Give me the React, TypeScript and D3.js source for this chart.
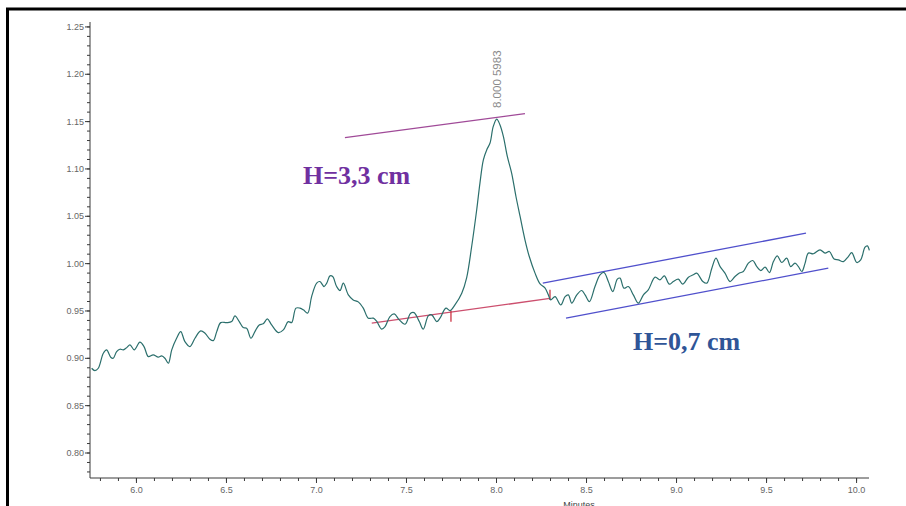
import React from "react";
import * as d3 from "d3";

// Chromatogram trace (minutes, signal)
const times: number[] = [
  5.751, 5.769, 5.788, 5.816, 5.834, 5.857, 5.871, 5.89, 5.908, 5.927, 5.946, 5.964, 5.988,
  6.019, 6.042, 6.066, 6.093, 6.121, 6.14, 6.158, 6.177, 6.196, 6.223, 6.246, 6.269, 6.297,
  6.325, 6.357, 6.381, 6.408, 6.427, 6.446, 6.468, 6.501, 6.529, 6.547, 6.571, 6.593, 6.612,
  6.636, 6.658, 6.682, 6.704, 6.727, 6.751, 6.788, 6.816, 6.843, 6.862, 6.886, 6.908, 6.927,
  6.951, 6.973, 7.001, 7.019, 7.042, 7.057, 7.075, 7.09, 7.112, 7.131, 7.149, 7.177, 7.204,
  7.232, 7.26, 7.288, 7.316, 7.333, 7.362, 7.381, 7.408, 7.432, 7.46, 7.492, 7.523, 7.542,
  7.571, 7.593, 7.621, 7.64, 7.668, 7.686, 7.719, 7.742, 7.769, 7.807, 7.834, 7.862, 7.89,
  7.908, 7.927, 7.946, 7.964, 7.982, 8.001, 8.019, 8.038, 8.06, 8.084, 8.108, 8.131, 8.158,
  8.182, 8.214, 8.242, 8.269, 8.288, 8.301, 8.325, 8.357, 8.381, 8.399, 8.418, 8.446, 8.473,
  8.492, 8.516, 8.547, 8.575, 8.597, 8.621, 8.646, 8.671, 8.686, 8.708, 8.732, 8.76, 8.788,
  8.816, 8.843, 8.881, 8.908, 8.932, 8.96, 8.982, 9.01, 9.034, 9.066, 9.093, 9.112, 9.146,
  9.168, 9.196, 9.219, 9.242, 9.269, 9.297, 9.325, 9.349, 9.371, 9.399, 9.423, 9.446, 9.468,
  9.492, 9.516, 9.538, 9.56, 9.584, 9.612, 9.634, 9.658, 9.677, 9.696, 9.714, 9.732, 9.76,
  9.797, 9.825, 9.849, 9.875, 9.899, 9.927, 9.954, 9.973, 10.001, 10.023, 10.047, 10.06, 10.071,
];
const signal: number[] = [
  0.8895, 0.887, 0.8895, 0.9054, 0.9089, 0.9012, 0.9001, 0.9071, 0.9096, 0.9089, 0.9113, 0.9142, 0.9089,
  0.917, 0.9124, 0.9018, 0.9036, 0.9012, 0.9025, 0.9001, 0.8948, 0.9089, 0.9212, 0.9282, 0.9177, 0.9124,
  0.9212, 0.929, 0.9265, 0.9202, 0.9187, 0.9282, 0.9377, 0.9377, 0.9388, 0.9448, 0.9388, 0.9325, 0.9318,
  0.9212, 0.9282, 0.9353, 0.9364, 0.9416, 0.9353, 0.9272, 0.93, 0.9388, 0.9377, 0.953, 0.953, 0.9512,
  0.9477, 0.9652, 0.9794, 0.9811, 0.9758, 0.9794, 0.9871, 0.9864, 0.9758, 0.9716, 0.9794, 0.967, 0.9617,
  0.9596, 0.953, 0.9424, 0.9424, 0.9395, 0.9308, 0.9335, 0.9441, 0.9469, 0.9406, 0.936, 0.9477, 0.9483,
  0.9388, 0.9308, 0.9448, 0.9459, 0.9388, 0.9424, 0.953, 0.9504, 0.9564, 0.9688, 0.985, 1.0181, 1.0569,
  1.0851, 1.1097, 1.1203, 1.1274, 1.1449, 1.1527, 1.1467, 1.1344, 1.1132, 1.0957, 1.0709, 1.0498, 1.0252,
  1.0075, 0.99, 0.9786, 0.9744, 0.967, 0.9617, 0.9652, 0.9564, 0.9652, 0.967, 0.9582, 0.967, 0.9716,
  0.967, 0.9599, 0.9758, 0.9882, 0.9906, 0.9811, 0.9705, 0.9836, 0.9847, 0.9741, 0.9758, 0.967, 0.9582,
  0.967, 0.9723, 0.9857, 0.9829, 0.9871, 0.9783, 0.9811, 0.9836, 0.9783, 0.9857, 0.9882, 0.99, 0.9811,
  0.9794, 0.9952, 1.0058, 0.9969, 0.99, 0.9811, 0.9864, 0.99, 0.9917, 1.0005, 1.0033, 0.9969, 0.9927,
  0.9963, 0.9906, 1.0022, 1.0082, 1.0012, 1.0058, 0.9969, 1.0005, 0.9969, 0.9917, 1.0005, 1.0111, 1.0104,
  1.0146, 1.0111, 1.0128, 1.0048, 1.004, 1.0022, 1.0075, 1.0117, 1.0012, 1.004, 1.0174, 1.0188, 1.0139,
];

const yMajorTicks: number[] = [0.8, 0.85, 0.9, 0.95, 1.0, 1.05, 1.1, 1.15, 1.2, 1.25];
const xMajorTicks: number[] = [6.0, 6.5, 7.0, 7.5, 8.0, 8.5, 9.0, 9.5, 10.0];
const xMinorTicks: number[] = d3.range(58, 101).map((d) => d / 10);
const yMinorTicks: number[] = d3.range(78, 126).map((d) => d / 100);

// Annotation segments [t1, v1, t2, v2]
const peakTopLine: number[] = [7.158, 1.133, 8.158, 1.1584];
const peakBaseLine: number[] = [7.307, 0.9371, 8.297, 0.9633];
const baseTickLeft: number[] = [7.747, 0.9504, 7.747, 0.9385];
const baseTickRight: number[] = [8.297, 0.9723, 8.297, 0.9617];
const noiseUpper: number[] = [8.257, 0.9794, 9.719, 1.0322];
const noiseLower: number[] = [8.386, 0.9424, 9.843, 0.9952];

const peakLabel = "8.000 5983";
const heightLabel1 = "H=3,3 cm";
const heightLabel2 = "H=0,7 cm";
const xTitle = "Minutes";

export default function App() {
  const W = 906;
  const H = 506;
  const x = d3.scaleLinear().domain([5.742, 10.069]).range([90, 869]);
  const y = d3.scaleLinear().domain([0.7736, 1.2552]).range([478, 22]);

  const pts: [number, number][] = times.map((t, i) => [t, signal[i]]);
  const line = d3
    .line<[number, number]>()
    .x((d) => x(d[0]))
    .y((d) => y(d[1]))
    .curve(d3.curveCatmullRom.alpha(0.5));

  const seg = (s: number[], color: string, w = 1.3) => (
    <line x1={x(s[0])} y1={y(s[1])} x2={x(s[2])} y2={y(s[3])} stroke={color} strokeWidth={w} />
  );

  const axisColor = "#3a3a3a";
  const labelColor = "#666";
  const x0 = x.range()[0];
  const yBottom = y.range()[0];

  return (
    <svg
      width={W}
      height={H}
      style={{ position: "absolute", left: 0, top: 0, background: "#fff" }}
      fontFamily="Arial, 'Liberation Sans', sans-serif"
    >
      <rect x={0} y={0} width={W} height={H} fill="#fff" />
      {/* frame */}
      <line x1={6} y1={9} x2={W} y2={9} stroke="#000" strokeWidth={3} />
      <line x1={7.5} y1={8} x2={7.5} y2={H} stroke="#000" strokeWidth={3} />

      {/* y axis */}
      <line x1={x0} y1={y.range()[1]} x2={x0} y2={yBottom} stroke={axisColor} strokeWidth={1} />
      {yMinorTicks.map((v) => (
        <line key={"ym" + v} x1={x0 - 3} x2={x0} y1={y(v)} y2={y(v)} stroke={axisColor} strokeWidth={1} />
      ))}
      {yMajorTicks.map((v) => (
        <g key={"yM" + v}>
          <line x1={x0 - 5} x2={x0} y1={y(v)} y2={y(v)} stroke={axisColor} strokeWidth={1} />
          <text x={x0 - 6} y={y(v) + 3} fontSize={9} fill={labelColor} textAnchor="end">
            {v.toFixed(2)}
          </text>
        </g>
      ))}

      {/* x axis */}
      <line x1={x0} y1={yBottom} x2={x.range()[1]} y2={yBottom} stroke={axisColor} strokeWidth={1} />
      {xMinorTicks.map((t) => (
        <line key={"xm" + t} x1={x(t)} x2={x(t)} y1={yBottom} y2={yBottom + 3} stroke={axisColor} strokeWidth={1} />
      ))}
      {xMajorTicks.map((t) => (
        <g key={"xM" + t}>
          <line x1={x(t)} x2={x(t)} y1={yBottom} y2={yBottom + 5} stroke={axisColor} strokeWidth={1} />
          <text x={x(t)} y={yBottom + 15} fontSize={9} fill={labelColor} textAnchor="middle">
            {t.toFixed(1)}
          </text>
        </g>
      ))}
      <text x={579} y={508} fontSize={9} fill="#444" textAnchor="middle">
        {xTitle}
      </text>

      {/* annotations */}
      {seg(peakTopLine, "#a04a98")}
      {seg(peakBaseLine, "#cc4f6e")}
      {seg(baseTickLeft, "#cc3344")}
      {seg(baseTickRight, "#cc3344")}
      {seg(noiseUpper, "#5050cc")}
      {seg(noiseLower, "#5050cc")}

      {/* trace */}
      <path d={line(pts) || ""} fill="none" stroke="#2b6f6c" strokeWidth={1.2} />

      {/* peak label */}
      <text
        transform={`translate(${x(8.0) + 4.5},108) rotate(-90)`}
        fontSize={11.5}
        fill="#8a8a8a"
      >
        {peakLabel}
      </text>

      <text
        x={303}
        y={183.5}
        fontFamily="'Liberation Serif', 'Times New Roman', serif"
        fontWeight="bold"
        fontSize={26}
        fill="#7030a0"
      >
        {heightLabel1}
      </text>
      <text
        x={633}
        y={349.5}
        fontFamily="'Liberation Serif', 'Times New Roman', serif"
        fontWeight="bold"
        fontSize={26}
        fill="#2f5597"
      >
        {heightLabel2}
      </text>
    </svg>
  );
}
